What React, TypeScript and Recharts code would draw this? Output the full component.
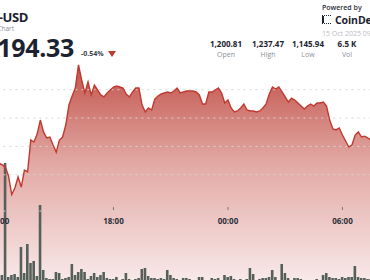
import React from "react";
import {
  ComposedChart,
  Area,
  Line,
  Bar,
  XAxis,
  YAxis,
  ReferenceLine,
} from "recharts";

// 10-minute candles, 12:00 -> 07:30
const prices = [
  1168.3, 1166.9, 1165.4, 1159.1, 1146.0, 1150.6, 1158.4, 1151.3, 1163.3, 1162.0,
  1184.5, 1183.1, 1188.7, 1198.6, 1190.2, 1185.9, 1186.6, 1181.0, 1176.0, 1184.5,
  1186.6, 1195.1, 1209.2, 1215.6, 1221.2, 1237.5, 1226.9, 1217.7, 1225.4, 1216.3,
  1223.3, 1219.8, 1216.3, 1214.9, 1217.7, 1219.8, 1221.9, 1222.6, 1221.9, 1221.2,
  1217.0, 1214.9, 1218.4, 1221.2, 1221.2, 1209.2, 1204.3, 1207.1, 1205.7, 1213.4,
  1215.6, 1217.0, 1217.7, 1218.4, 1217.7, 1219.1, 1221.2, 1217.7, 1218.4, 1219.1,
  1219.1, 1219.1, 1218.4, 1216.3, 1209.9, 1209.9, 1218.4, 1218.4, 1219.8, 1221.2,
  1217.7, 1210.6, 1212.7, 1207.1, 1204.3, 1205.0, 1207.1, 1209.9, 1205.7, 1205.0,
  1205.0, 1204.3, 1205.0, 1207.1, 1209.9, 1217.0, 1221.9, 1220.5, 1221.9, 1218.4,
  1214.9, 1211.3, 1214.1, 1212.7, 1210.6, 1208.5, 1206.4, 1208.5, 1209.9, 1208.5,
  1210.6, 1210.6, 1211.3, 1208.5, 1198.6, 1192.3, 1191.6, 1193.0, 1188.0, 1183.8,
  1179.6, 1181.0, 1188.0, 1190.2, 1186.6, 1187.2, 1185.9, 1184.5,
];

const volumes = [
  40, 60, 1180, 40, 60, 70, 40, 340, 80, 370,
  180, 200, 50, 760, 110, 30, 20, 20, 90, 80,
  20, 30, 40, 170, 60, 90, 120, 90, 20, 50,
  80, 40, 60, 90, 30, 20, 20, 40, 10, 20,
  80, 20, 10, 20, 30, 120, 130, 50, 30, 30,
  20, 30, 20, 110, 60, 30, 20, 10, 30, 30,
  20, 10, 10, 40, 40, 10, 10, 30, 20, 30,
  10, 60, 40, 50, 20, 10, 20, 10, 20, 130,
  70, 10, 20, 30, 30, 40, 110, 40, 10, 170,
  80, 30, 10, 30, 30, 20, 10, 10, 10, 10,
  20, 10, 60, 80, 40, 30, 30, 20, 40, 30,
  40, 40, 150, 40, 30, 30, 20, 20,
];

const tickLabels = ["12:00", "18:00", "00:00", "06:00"];
const gridPrices = [1220, 1200, 1180, 1160];
const axisLinePrice = 1134.4;

const stats = [
  { value: "1,200.81", label: "Open", cx: 226 },
  { value: "1,237.47", label: "High", cx: 268 },
  { value: "1,145.94", label: "Low", cx: 308 },
  { value: "6.5 K", label: "Vol", cx: 347 },
];

const pad = (n: number) => (n < 10 ? "0" + n : "" + n);
const times = prices.map((_, i) => {
  const m = (12 * 60 + i * 10) % 1440;
  return pad(Math.floor(m / 60)) + ":" + pad(m % 60);
});

const data = prices.map((p, i) => ({ time: times[i], price: p, volume: volumes[i] }));

const FONT = "'Open Sans', 'Noto Sans', sans-serif";
const DARK = "#1c2230";

const TimeTick = (props: any) => {
  const { x, y, payload } = props;
  return (
    <g>
      <line x1={x} x2={x} y1={y - 74} y2={y - 71} stroke="#777" strokeWidth={1} />
      <text
        x={x}
        y={y - 61}
        textAnchor="middle"
        dominantBaseline="central"
        fontSize={8}
        fontWeight={700}
        fontFamily={FONT}
        fill="#2b2f38"
      >
        {payload.value}
      </text>
    </g>
  );
};

const abs = (s: React.CSSProperties): React.CSSProperties => ({
  position: "absolute",
  fontFamily: FONT,
  whiteSpace: "nowrap",
  lineHeight: 1,
  ...s,
});

export default function App() {
  return (
    <div
      style={{
        position: "absolute",
        left: 0,
        top: 0,
        width: 370,
        height: 280,
        overflow: "hidden",
        background: "#fff",
      }}
    >
      <div style={{ position: "absolute", left: -22, top: 0 }}>
        <ComposedChart
          width={405}
          height={301}
          data={data}
          margin={{ top: 20, right: 10.36, left: 19.4, bottom: 0 }}
        >
          <defs>
            <linearGradient id="priceFill" x1="0" y1="0" x2="0" y2="1">
              <stop offset="0%" stopColor="#c1524a" />
              <stop offset="45%" stopColor="#e2a8a3" />
              <stop offset="100%" stopColor="#f8e9e9" />
            </linearGradient>
          </defs>
          <XAxis
            dataKey="time"
            ticks={tickLabels}
            interval={0}
            axisLine={false}
            tickLine={false}
            tickSize={0}
            tickMargin={0}
            height={20}
            tick={<TimeTick />}
          />
          <YAxis yAxisId="price" hide domain={[1085, 1269.2]} />
          <YAxis yAxisId="vol" hide domain={[0, 2610]} />
          <Area
            yAxisId="price"
            dataKey="price"
            type="linear"
            stroke="none"
            fill="url(#priceFill)"
            fillOpacity={1}
            isAnimationActive={false}
          />
          {gridPrices.map((p) => (
            <ReferenceLine
              key={p}
              yAxisId="price"
              y={p}
              stroke="#d6d6d6"
              strokeDasharray="2 4"
              strokeWidth={1}
            />
          ))}
          <ReferenceLine
            yAxisId="price"
            y={axisLinePrice}
            stroke="#d0d0d0"
            strokeDasharray="2 4"
            strokeWidth={1}
          />
          <Bar
            yAxisId="vol"
            dataKey="volume"
            fill="#56605a"
            barSize={2.6}
            isAnimationActive={false}
          />
          <Line
            yAxisId="price"
            dataKey="price"
            type="linear"
            stroke="#c0392f"
            strokeWidth={1.4}
            dot={false}
            isAnimationActive={false}
          />
        </ComposedChart>
      </div>

      {/* header left */}
      <div style={abs({ left: -100, width: 128, top: 11, fontSize: 13, fontWeight: 700, color: DARK, textAlign: "right", letterSpacing: -0.4 })}>
        BNB-USD
      </div>
      <div style={abs({ left: -100, width: 114, top: 26, fontSize: 6.5, color: "#8a8f99", textAlign: "right" })}>
        BNB Price Chart
      </div>
      <div style={abs({ left: -100, width: 174, top: 35, fontSize: 25, fontWeight: 700, color: DARK, textAlign: "right", letterSpacing: -0.3 })}>
        1,194.33
      </div>
      <div style={abs({ left: 81, top: 50, fontSize: 7, fontWeight: 700, color: "#3a3f4a" })}>
        -0.54%
      </div>
      <svg
        width={8}
        height={6}
        style={{ position: "absolute", left: 108, top: 51 }}
      >
        <polygon points="0,0 8,0 4,6" fill="#c0392f" />
      </svg>

      {/* header right */}
      <div style={abs({ left: 322, top: 4, fontSize: 7, fontWeight: 600, color: "#2a2e38" })}>
        Powered by
      </div>
      <div
        style={{
          position: "absolute",
          left: 322,
          top: 15,
          width: 9,
          height: 9,
          borderLeft: "2px solid #1c2230",
          borderTop: "1.5px dotted #1c2230",
          borderBottom: "1.5px dotted #1c2230",
          boxSizing: "border-box",
        }}
      />
      <div style={abs({ left: 335, top: 15, fontSize: 10.5, fontWeight: 700, color: DARK, letterSpacing: -0.1 })}>
        CoinDesk
      </div>
      <div style={abs({ left: 322, top: 30, fontSize: 7, color: "#b8bcc4" })}>
        15 Oct 2025 09:00
      </div>
      {stats.map((s) => (
        <React.Fragment key={s.label}>
          <div style={abs({ left: s.cx - 30, width: 60, top: 40, fontSize: 8, fontWeight: 700, color: DARK, textAlign: "center" })}>
            {s.value}
          </div>
          <div style={abs({ left: s.cx - 30, width: 60, top: 51, fontSize: 7, color: "#8a8f99", textAlign: "center" })}>
            {s.label}
          </div>
        </React.Fragment>
      ))}
    </div>
  );
}
